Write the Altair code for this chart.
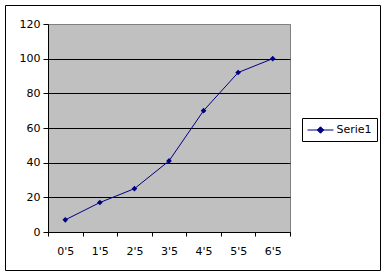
import altair as alt
import pandas as pd

categories = ["0'5", "1'5", "2'5", "3'5", "4'5", "5'5", "6'5"]
values = [7, 17, 25, 41, 70, 92, 100]
series = ["Serie1"] * len(categories)
y_ticks = [0, 20, 40, 60, 80, 100, 120]

df = pd.DataFrame({"cat": categories, "val": values, "serie": series})

FONT = "DejaVu Sans"
NAVY = "#000080"

x_enc = alt.X(
    "cat:N",
    sort=categories,
    bandPosition=0.5,
    scale=alt.Scale(type="band", paddingInner=0, paddingOuter=0),
    axis=alt.Axis(
        title=None, labelAngle=0, tickBand="extent", tickSize=4,
        labelPadding=9, domainColor="black", tickColor="black",
        labelFont=FONT, labelFontSize=11, labelColor="black", grid=False,
    ),
)
y_enc = alt.Y(
    "val:Q",
    scale=alt.Scale(domain=[0, 120], nice=False),
    axis=alt.Axis(
        title=None, values=y_ticks, tickSize=5, labelPadding=3,
        domainColor="black", tickColor="black", labelFont=FONT,
        labelFontSize=11, labelColor="black", grid=True,
        gridColor={"condition": {"test": "datum.value === 120", "value": "#808080"}, "value": "black"},
        gridOpacity=1,
    ),
)

legend_symbol = "M-2,0H2M0,-0.5L0.5,0L0,0.5L-0.5,0Z"

line = alt.Chart(df).mark_line(
    strokeWidth=1,
    point=alt.OverlayMarkDef(shape="diamond", size=32, filled=True, color=NAVY),
).encode(
    x=x_enc,
    y=y_enc,
    color=alt.Color(
        "serie:N",
        scale=alt.Scale(domain=["Serie1"], range=[NAVY]),
        legend=alt.Legend(
            title=None, orient="none", legendX=254, legendY=94,
            strokeColor="black", fillColor="white", padding=5,
            symbolType=legend_symbol, symbolSize=169, symbolStrokeWidth=1,
            symbolOffset=6.5,
            symbolFillColor=NAVY, symbolStrokeColor=NAVY,
            labelFont=FONT, labelFontSize=11, labelColor="black", labelOffset=9,
        ),
    ),
)

frame = alt.Chart(pd.DataFrame({"a": [0]})).mark_rect(
    fill=None, stroke="black", strokeWidth=1
).encode(
    x=alt.value(-42.5), x2=alt.value(332.5), y=alt.value(-18.5), y2=alt.value(246.5)
)

chart = alt.layer(line, frame).properties(
    width=242, height=208,
    autosize=alt.AutoSizeParams(type="none"),
    padding={"left": 48, "top": 24, "right": 97, "bottom": 44},
    background="white",
).configure_view(fill="#C0C0C0", stroke="#808080", strokeWidth=1)

chart.save("out.html", embed_options={"renderer": "svg", "actions": False})
